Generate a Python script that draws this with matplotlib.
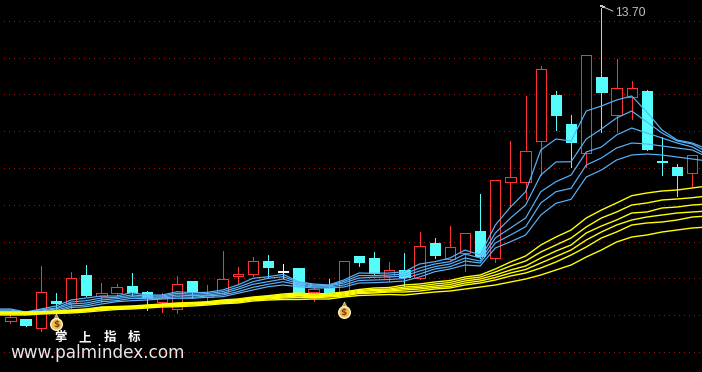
import matplotlib
matplotlib.use("Agg")
import matplotlib.pyplot as plt

# heights on the chart, counted up from the bottom edge
opens = [51, 53, 44.3, 71.2, 69.3, 97, 76, 78.7, 86, 80, 70.3, 63.3, 91, 75.3, 79.3, 96.3, 98.3, 111, 101, 104, 79.7, 84.3, 79.7, 116, 114, 96, 102, 93.7, 129, 112.7, 119.3, 141, 113.7, 190.3, 190.3, 231.3, 277, 248, 219.3, 294.7, 257.3, 274.7, 281, 211, 205, 199.3]
closes = [55, 47, 79.7, 69.5, 93.7, 77, 78.7, 84.7, 79.7, 75.3, 74.3, 87.7, 80, 77, 92.7, 98, 111, 105, 100, 77, 82.7, 80, 111, 110, 98.7, 101.7, 94.7, 126, 117, 124.7, 138.7, 116, 191.7, 194.7, 220.7, 302.7, 257.3, 230.3, 316.7, 280.3, 283.7, 283.7, 223, 210, 197.3, 216.7]
highs = [57, 53, 106, 78.7, 100, 107, 89.3, 88, 99, 81.3, 78.7, 96, 91, 87, 121, 105, 115, 117, 108, 104, 85, 93, 111, 116, 120, 110, 119, 140, 134, 146, 139, 178, 192, 231, 276, 306.3, 281, 257, 316.7, 364, 312.7, 291, 282, 235.3, 208, 216.7]
lows = [49.3, 46, 41, 63, 64.4, 76, 70.3, 76.3, 77, 62, 60.3, 58.7, 73.7, 70.3, 79, 88.7, 96, 93.7, 94.3, 77, 71.3, 77, 79.7, 106, 97, 91, 86, 93, 114, 112, 101, 114, 110.3, 166, 173, 197, 242, 205.3, 205.3, 240.3, 240.3, 253.3, 222, 197, 176.3, 186.3]
white_doji = [18]

# moving averages, first point sits just left of the first candle, last just past the right edge
ma_x = list(range(-1, 47))
blue1 = [63, 63, 60, 63, 66, 72, 74, 76, 76, 79.3, 77, 77, 80.3, 79.3, 79.7, 82, 87, 93.7, 95.3, 97.7, 90.3, 88, 87, 92, 99, 98.7, 99, 100.3, 108, 110.3, 114, 122, 117, 147, 165, 180.3, 222, 233, 231, 261, 266, 272, 276, 260, 242, 232, 229, 223]
blue2 = [62, 62, 59.5, 62, 64, 70, 71.3, 74, 74.7, 77, 76, 76, 78.7, 77.7, 78.5, 80.3, 84.7, 90.3, 93.7, 95.3, 89.7, 87, 86.5, 90.5, 96.5, 96.3, 97, 98, 104, 108, 110.3, 118, 114, 139, 154, 167, 197, 210, 210.3, 233, 243, 254, 261, 250, 239, 231, 228, 220]
blue3 = [61, 61, 59, 61, 63, 68, 69, 72, 73.3, 75.3, 74.7, 75, 77, 76.3, 77, 78.7, 82.7, 87.7, 90.3, 93, 88.3, 86, 86, 89, 94, 94.7, 95, 96, 101, 105.3, 108, 114, 111, 134, 144, 154, 180.3, 190.3, 197, 220, 225, 237, 244, 239, 234, 229, 225, 217]
blue4 = [60, 60, 58.5, 60, 61.5, 66, 67, 70.3, 71.3, 73.7, 73.3, 74, 75.3, 74.7, 76, 77, 80.3, 84.7, 87.7, 90.3, 87, 85, 85, 87, 91.5, 92, 92.5, 93.5, 98, 103, 105.3, 111, 109, 129, 137, 145.3, 169, 180.3, 183.7, 207, 214, 224, 229, 228, 226, 224, 222, 215]
blue5 = [59, 59, 58, 59, 60, 64.5, 65.3, 68, 70.3, 71.3, 72, 73, 73.7, 73.7, 74.7, 75.3, 78.7, 82, 85.3, 87, 85.3, 84, 84, 85, 89, 89.3, 90, 91, 95, 100.3, 103, 107, 106, 124, 130.3, 137, 157, 168.7, 172.7, 195, 202, 212, 217, 218, 217, 215, 213, 211]
yellow1 = [60, 60, 60, 60.3, 61, 62, 63, 65, 65.5, 66, 67, 68, 69, 69.5, 70.3, 72, 73, 75, 76.3, 78, 79, 78, 78.5, 80, 82.5, 84, 84.5, 87, 88, 90, 91.5, 95, 97, 103, 110, 116, 127, 135, 142, 154, 162, 169, 176.3, 179, 181, 182, 184, 186]
yellow2 = [59.5, 59.5, 59.5, 60, 60.5, 61.5, 62.5, 64.5, 65, 65.5, 66.5, 67.5, 68.5, 69, 69.7, 71.3, 72.3, 74.3, 75.5, 77, 78, 77, 77.5, 79, 81.5, 82.5, 83, 85, 86, 88, 89.5, 93, 95, 100, 106, 111, 120, 127, 134, 145, 154, 160, 167, 169, 172, 173, 174.3, 176]
yellow3 = [59, 59, 59, 59.5, 60, 61, 62, 64, 64.5, 65, 66, 67, 68, 68.5, 69, 70.7, 71.5, 73.7, 74.7, 76, 77, 76, 76.5, 78, 80.5, 81.5, 82, 83.5, 84.5, 86, 87.5, 91, 93, 97, 102, 106, 114, 121, 127, 139, 146, 152, 159, 160, 164, 165, 167, 168]
yellow4 = [58.5, 58.5, 58.5, 59, 59.5, 60.5, 61.5, 63, 64, 64.5, 65.5, 66.5, 67.5, 68, 68.5, 70, 71, 73, 74, 75, 76, 75.3, 76, 77, 79.5, 80, 81, 82, 83, 84.5, 85.5, 89, 91, 94.5, 99, 102.5, 109, 115.5, 122, 132, 140, 147, 152, 155, 157, 159, 160, 161]
yellow5 = [58, 58, 58, 58.5, 59, 60, 61, 62.5, 63.5, 64, 65, 66, 66.5, 67, 68, 69.3, 70, 72.2, 73, 74, 74.5, 74.3, 75, 76, 78.5, 79, 80, 80, 81, 83, 84, 87, 89, 92, 96, 99, 104, 110, 117, 125, 134, 140, 147, 149, 150, 152, 155, 156]
yellow6 = [57, 57, 57, 58, 58.5, 59, 60, 61.3, 62.5, 63, 64, 65, 65.3, 66, 67, 68.3, 69, 71, 72, 72.5, 72.5, 73, 73, 75, 76.5, 77, 77.5, 77, 78.5, 80, 81, 83, 85, 87, 90, 93, 97, 102, 107, 115, 122, 130, 135, 137, 140, 142, 144, 145]

grid_levels = [350.7, 313.7, 277.7, 240.7, 203.7, 166.7, 129.7, 93.7, 56.7, 19.7]
signal_x = [3, 22]
signal_y = [49, 61]
high_label = "13.70"
high_x = 39
brand_chars = ["掌", "上", "指", "标"]

RED = "#ff3232"
CYAN = "#54fcfc"
BLUE = "#5ab4fc"
YELLOW = "#ffff00"
PX = 0.72  # one pixel at dpi 100

fig = plt.figure(figsize=(7.02, 3.72), dpi=100, facecolor="black")
ax = fig.add_axes([0, 0, 1, 1], facecolor="black")
ax.set_xlim(-0.693, 45.64)
ax.set_ylim(0, 372)
ax.axis("off")

ax.hlines(grid_levels, -1, 47, color="#a01414", lw=PX, linestyle=(0, (1, 5)), antialiased=False, zorder=1)

for i in range(len(opens)):
    top = max(opens[i], closes[i])
    bottom = min(opens[i], closes[i])
    if i in white_doji:
        color = "white"
    elif closes[i] > opens[i]:
        color = RED
    else:
        color = CYAN
    ax.plot([i, i], [top, highs[i]], color=color, lw=PX, antialiased=False, snap=True, zorder=2)
    ax.plot([i, i], [lows[i], bottom], color=color, lw=PX, antialiased=False, snap=True, zorder=2)
    face = "black" if color == RED else color
    ax.bar(i, top - bottom, bottom=bottom, width=0.68, facecolor=face, edgecolor=color,
           lw=PX, antialiased=False, snap=True, zorder=3)

# aliased agg lines come out two pixels wide on slopes, so these stay smoothed
for values in [blue1, blue2, blue3, blue4, blue5]:
    ax.plot(ma_x, values, color=BLUE, lw=0.85, zorder=4)
for values in [yellow1, yellow2, yellow3, yellow4, yellow5, yellow6]:
    ax.plot(ma_x, values, color=YELLOW, lw=1.0, zorder=5)

# money bag signals
for x, y in zip(signal_x, signal_y):
    ax.scatter([x], [y + 6], marker="^", s=26, color="#d09a30", edgecolor="#fff0c0", lw=0.4, zorder=6)
    ax.scatter([x], [y - 1], marker="o", s=70, color="#f2c04a", edgecolor="#fff2c8", lw=1.0, zorder=6)
    ax.text(x, y - 1, "$", color="#7a3a20", fontsize=6.5, fontweight="bold", ha="center", va="center", zorder=7)

# highest price flag
ax.plot([high_x, high_x + 0.13], [366, 365], color="#c8c8c8", lw=PX, antialiased=False, zorder=6)
ax.plot([high_x + 0.13, high_x + 0.75], [365, 361], color="#c8c8c8", lw=PX, zorder=6)
ax.text(high_x + 0.9, 359.5, high_label, color="#c0c0c0", fontsize=8.8, family="Liberation Sans",
        ha="left", va="center", zorder=6)

for n, ch in enumerate(brand_chars):
    ax.text((60.5 + 24.5 * n) / 702, 1 - 337.5 / 372, ch, color="white", fontsize=9, fontweight="bold",
            family=["Noto Sans CJK SC", "DejaVu Sans"], ha="center", va="center", transform=ax.transAxes, zorder=7)
ax.text(10 / 702, 1 - 352.5 / 372, "www.palmindex.com", color="#e8e8e8", fontsize=12.2,
        family="DejaVu Sans", ha="left", va="center", transform=ax.transAxes, zorder=7)

fig.savefig("out.png", dpi=100, facecolor="black")
